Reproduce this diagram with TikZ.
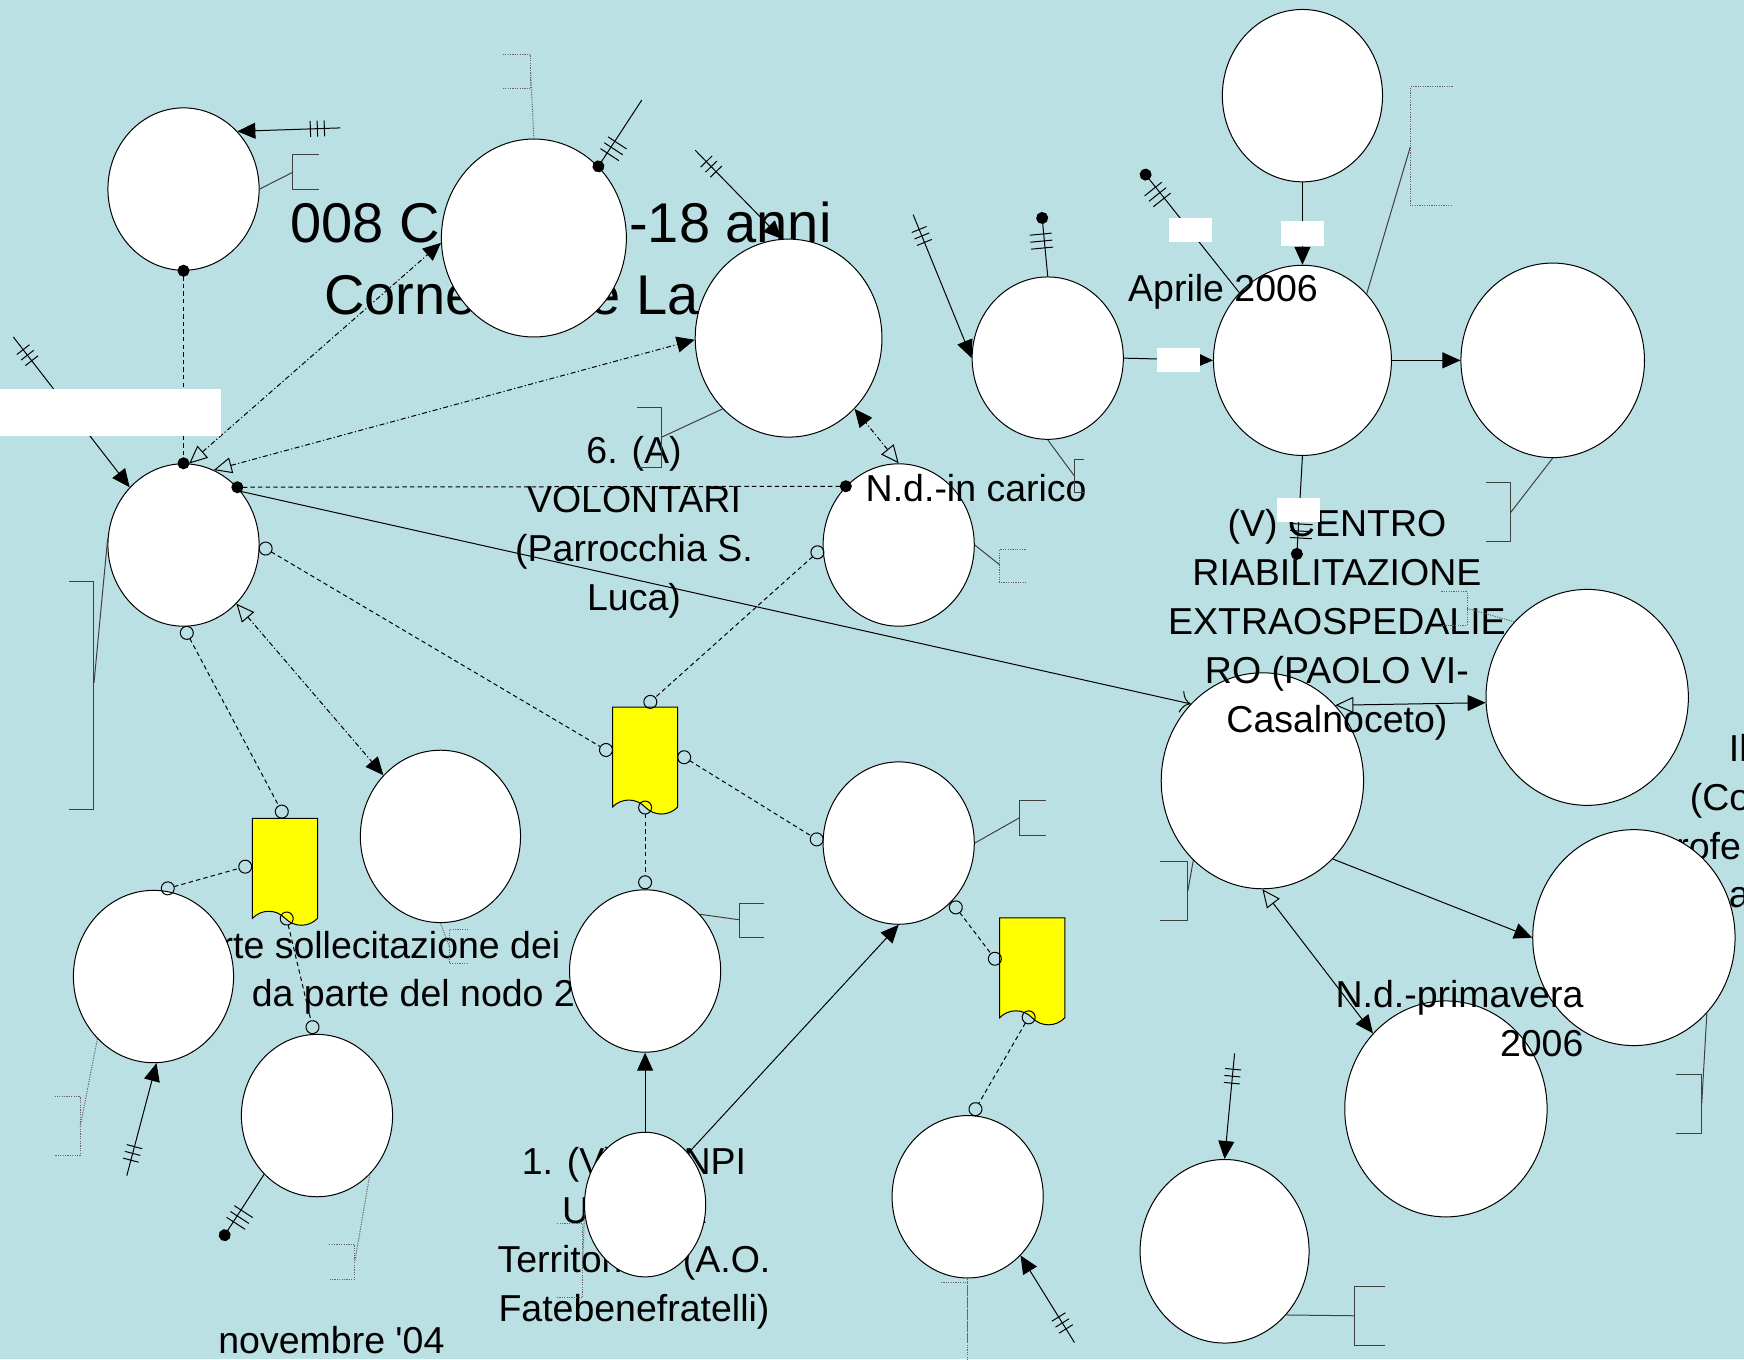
\documentclass[tikz,border=0pt]{standalone}
\usepackage{fontspec}
\setmainfont{Liberation Sans}
\usetikzlibrary{arrows.meta}
\usetikzlibrary{shapes.geometric}
\usetikzlibrary{shapes.symbols}
\usetikzlibrary{decorations.markings}

\definecolor{sheet}{RGB}{187,224,227}
\definecolor{note}{RGB}{255,255,0}

\tikzset{
  actor/.style={ellipse, draw, fill=white, line width=0.5pt, inner sep=0pt, minimum width=75.6pt, minimum height=81.2pt},
  midactor/.style={actor, minimum width=80.1pt, minimum height=86.2pt},
  bigactor/.style={actor, minimum width=101.2pt, minimum height=108pt},
  docsheet/.style={tape, tape bend top=none, tape bend bottom=out and in, tape bend height=7pt, draw, fill=note, line width=0.5pt, inner sep=0pt, minimum width=32.6pt, minimum height=53.5pt},
  blankbox/.style={fill=white, inner sep=0pt, minimum width=21.7pt, minimum height=12.2pt},
  lbl/.style={inner sep=0pt, font=\fontsize{18.75}{24.5}\selectfont},
  ttl/.style={inner sep=0pt, font=\fontsize{28}{36}\selectfont},
  conn/.style={line width=0.5pt},
  dashconn/.style={conn, dash pattern=on 2.2pt off 1.6pt},
  dotdash/.style={conn, dash pattern=on 2.5pt off 1.2pt on 0.6pt off 1.2pt},
  brk/.style={line width=0.5pt, black!75},
  dbrk/.style={line width=0.5pt, black!60, dash pattern=on 0.6pt off 0.6pt},
  tripletick/.style={postaction={decorate, decoration={markings,
    mark=at position 8pt with {\draw[solid,-] (0,-4pt) -- (0,4pt);},
    mark=at position 11.5pt with {\draw[solid,-] (0,-4pt) -- (0,4pt);},
    mark=at position 15pt with {\draw[solid,-] (0,-4pt) -- (0,4pt);}}}},
  solidtri/.tip={Triangle[length=9pt,width=8pt]},
  opentri/.tip={Triangle[open,length=9pt,width=8pt]},
  blob/.tip={Circle[length=6pt]},
  ring/.tip={Circle[open,length=7pt]},
  barb/.tip={Computer Modern Rightarrow[length=5pt,width=11pt]},
}

\begin{document}
\begin{tikzpicture}[x=0.5562pt, y=-0.5562pt]
\useasboundingbox[fill=sheet] (0,0) rectangle (1568,1222);

% texts lying under the circles
\node[ttl, anchor=base west] (ttlA) at (261,218) {008 C};
\node[ttl, anchor=base east] (ttlB) at (748,218) {-18 anni};
\node[ttl, anchor=base west] (ttlC) at (291,283) {Corne};
\node[ttl, anchor=base west] (ttlD) at (530,283) {e La};
\node[lbl, align=center, anchor=base] (npit) at (570,1188) {1. (V) UONPI\\UONPIA\\Territoriale (A.O.\\Fatebenefratelli)};
\node[lbl, anchor=base west] (solA) at (198,862) {rte sollecitazione dei};
\node[lbl, anchor=base west] (solB) at (226,905) {da parte del nodo 2};
\node[lbl, anchor=base west] (edgeA) at (1554,685) {Il};
\node[lbl, anchor=base west] (edgeB) at (1519,729) {(Co};
\node[lbl, anchor=base west] (edgeC) at (1488,773) {profe};
\node[lbl, anchor=base west] (edgeD) at (1554,816) {a};

% circles
\node[actor] (nw) at (165,170) {};
\node[actor, minimum width=92.5pt, minimum height=99pt] (title) at (480,214) {};
\node[actor, minimum width=93.4pt, minimum height=99pt] (vol) at (709,304) {};
\node[actor] (mid) at (942,322) {};
\node[midactor] (top) at (1171,86) {};
\node[actor, minimum width=89pt, minimum height=95.1pt] (apr) at (1171,324) {};
\node[actor, minimum width=91.8pt, minimum height=97.3pt] (east) at (1396,324) {};
\node[actor] (hub) at (165,490) {};
\node[actor] (car) at (808,490) {};
\node[bigactor] (rj) at (1427,627) {};
\node[bigactor] (cen) at (1135,702) {};
\node[midactor] (lo) at (396,752) {};
\node[actor] (mm) at (808,758) {};
\node[bigactor] (pro) at (1469,843) {};
\node[midactor] (sw) at (138,878) {};
\node[actor] (pp) at (580,873) {};
\node[actor] (nov) at (285,1003) {};
\node[bigactor] (prim) at (1300,997) {};
\node[actor, minimum width=60.6pt, minimum height=72.3pt] (uon) at (580,1083) {};
\node[actor] (tt) at (870,1076) {};
\node[actor, minimum width=84.5pt, minimum height=91.8pt] (uu) at (1101,1125) {};

% yellow documents
\node[docsheet] (docA) at (256.3,777.5) {};
\node[docsheet] (docB) at (580,677.5) {};
\node[docsheet] (docC) at (928,867) {};

% texts lying over the circles
\node[lbl, align=center, anchor=base] (volt) at (570,549) {6. (A)\\VOLONTARI\\(Parrocchia S.\\Luca)};
\node[lbl, anchor=base west] (cart) at (778,451) {N.d.-in carico};
\node[lbl, anchor=base west] (aprt) at (1014,271) {Aprile 2006};
\node[lbl, align=center, anchor=base] (cent) at (1202,659) {(V) CENTRO\\RIABILITAZIONE\\EXTRAOSPEDALIE\\RO (PAOLO VI-\\Casalnoceto)};
\node[lbl, align=right, anchor=base east] (primt) at (1424,950) {N.d.-primavera\\2006};
\node[lbl, anchor=base west] (novt) at (196,1217) {novembre \textquotesingle04};

% brackets
\coordinate (bA) at (263,155);
\draw[brk] (287,139) -- (263,139) -- (263,170) -- (287,170);
\draw[brk] (nw.0) -- (bA);
\coordinate (bB) at (477,64.5);
\draw[dbrk] (452,49) -- (477,49) -- (477,80) -- (452,80);
\draw[dbrk] (title.90) -- (bB);
\coordinate (bC) at (595,393);
\draw[brk] (573,366) -- (595,366) -- (595,420) -- (573,420);
\draw[brk] (vol.227) -- (bC);
\coordinate (bD) at (966,428);
\draw[brk] (975,413) -- (966,413) -- (966,443) -- (975,443);
\draw[brk] (mid.-90) -- (bD);
\coordinate (bF) at (1268,132);
\draw[dbrk] (1306,78) -- (1268,78) -- (1268,185) -- (1306,185);
\draw[brk] (apr.46.5) -- (bF);
\coordinate (bG) at (1358,461);
\draw[brk] (1336,434) -- (1358,434) -- (1358,487) -- (1336,487);
\draw[brk] (east.-90) -- (bG);
\coordinate (bI) at (899,508);
\draw[dbrk] (922,494) -- (899,494) -- (899,524) -- (922,524);
\draw[brk] (car.0) -- (bI);
\coordinate (bH) at (84.5,614);
\draw[brk] (62,523) -- (84.5,523) -- (84.5,728) -- (62,728);
\draw[brk] (hub.175) -- (bH);
\coordinate (bJ) at (1319,547);
\draw[dbrk] (1296,532) -- (1319,532) -- (1319,562) -- (1296,562);
\draw[dbrk] (rj.134) -- (bJ);
\coordinate (bK) at (1068,801);
\draw[brk] (1043,775) -- (1068,775) -- (1068,828) -- (1043,828);
\draw[brk] (cen.229) -- (bK);
\coordinate (bL) at (404,851);
\draw[dbrk] (421,836) -- (404,836) -- (404,866) -- (421,866);
\draw[dbrk] (lo.-90) -- (bL);
\coordinate (bO) at (72,1013);
\draw[dbrk] (49,986) -- (72,986) -- (72,1039) -- (49,1039);
\draw[dbrk] (sw.228) -- (bO);
\coordinate (bQ) at (319,1134);
\draw[dbrk] (296,1119) -- (319,1119) -- (319,1150) -- (296,1150);
\draw[dbrk] (nov.-48) -- (bQ);
\coordinate (bP) at (665,827);
\draw[brk] (687,812) -- (665,812) -- (665,843) -- (687,843);
\draw[brk] (pp.46) -- (bP);
\coordinate (bM) at (917,735);
\draw[brk] (940,720) -- (917,720) -- (917,751) -- (940,751);
\draw[brk] (mm.0) -- (bM);
\coordinate (bN) at (1530,992);
\draw[brk] (1507,966) -- (1530,966) -- (1530,1019) -- (1507,1019);
\draw[brk] (pro.-46.7) -- (bN);
\coordinate (bS) at (524,1133);
\draw[dbrk] (501,1100) -- (524,1100) -- (524,1167) -- (501,1167);
\draw[dbrk] (uon.188) -- (bS);
\coordinate (bT) at (870,1206);
\draw[dbrk] (846,1153) -- (870,1153) -- (870,1260) -- (846,1260);
\draw[dbrk] (tt.-90) -- (bT);
\coordinate (bU) at (1218,1183);
\draw[brk] (1245,1157) -- (1218,1157) -- (1218,1210) -- (1245,1210);
\draw[brk] (uu.-46) -- (bU);

% free ends of the stubs
\coordinate (s1) at (306,115);
\coordinate (s18) at (625,135);
\coordinate (e19) at (577,90);
\coordinate (s20) at (821,193);
\coordinate (s21) at (937,196);
\coordinate (s25) at (1030,157);
\coordinate (s26) at (1166,498);
\coordinate (s30) at (1110,947);
\coordinate (s33) at (966,1207);
\coordinate (s34) at (114,1057);
\coordinate (s35) at (202,1110.5);
\coordinate (s36) at (12,303);

% connectors
\draw[conn, tripletick, -solidtri] (s1) -- (nw.47);
\draw[dashconn, blob-blob, shorten <=-3pt, shorten >=-3pt] (nw.-90) -- (hub.90);
\draw[dotdash, opentri-solidtri] (hub.86) -- (title.183);
\draw[dotdash, opentri-solidtri] (hub.68) -- (vol.181);
\draw[dashconn, blob-blob, shorten <=-3pt, shorten >=-3pt] (hub.47) -- (car.132);
\draw[conn, -barb] (hub.43) -- (cen.133);
\draw[dotdash, opentri-solidtri] (hub.-48) -- (lo.133);
\draw[dashconn, ring-ring] (hub.-90) -- (docA.north);
\draw[dashconn, ring-ring] (hub.0) -- (docB.west);
\draw[dashconn, ring-ring] (car.182) -- (docB.north);
\draw[dashconn, ring-ring] (docB.east) -- (mm.180);
\draw[dashconn, ring-ring] (docB.south) -- (pp.90);
\draw[dashconn, ring-ring] (sw.85) -- (docA.west);
\draw[dashconn, ring-ring] (docA.south) -- (nov.92);
\draw[dashconn, ring-ring] (mm.-48) -- (docC.west);
\draw[dashconn, ring-ring] (docC.south) -- (tt.87);
\draw[dotdash, opentri-solidtri] (car.90) -- (vol.-47);
\draw[conn, tripletick, -solidtri] (s18) -- (vol.94);
\draw[conn, tripletick, blob-, shorten <=-3pt] (title.48) -- (e19);
\draw[conn, tripletick, -solidtri] (s20) -- (mid.180);
\draw[conn, tripletick, blob-, shorten <=-3pt] (s21) -- (mid.90);
\draw[conn, -solidtri] (mid.0) -- (apr.180);
\draw[conn, -solidtri] (top.-90) -- (apr.90);
\draw[conn, -solidtri] (apr.0) -- (east.180);
\draw[conn, tripletick, blob-, shorten <=-3pt] (s25) -- (apr.133);
\draw[conn, tripletick, blob-, shorten <=-3pt] (s26) -- (apr.-90);
\draw[conn, opentri-solidtri] (cen.46) -- (rj.183);
\draw[conn, -solidtri] (cen.-48) -- (pro.180);
\draw[conn, opentri-solidtri] (cen.-90) -- (prim.134);
\draw[conn, tripletick, -solidtri] (s30) -- (uu.90);
\draw[conn, -solidtri] (uon.90) -- (pp.-90);
\draw[conn, -solidtri] (uon.50) -- (mm.-90);
\draw[conn, tripletick, -solidtri] (s33) -- (tt.-48);
\draw[conn, tripletick, -solidtri] (s34) -- (sw.-88);
\draw[conn, tripletick, blob-, shorten <=-3pt] (s35) -- (nov.-132.5);
\draw[conn, tripletick, -solidtri] (s36) -- (hub.133);

% white label boxes
\node[blankbox, minimum width=110.1pt, minimum height=23.9pt, anchor=north west] (boxA) at (0,349) {};
\node[blankbox] (boxB) at (1070.5,207) {};
\node[blankbox] (boxC) at (1171,210) {};
\node[blankbox] (boxD) at (1059.5,323.5) {};
\node[blankbox] (boxE) at (1167.5,458.5) {};
\end{tikzpicture}
\end{document}
